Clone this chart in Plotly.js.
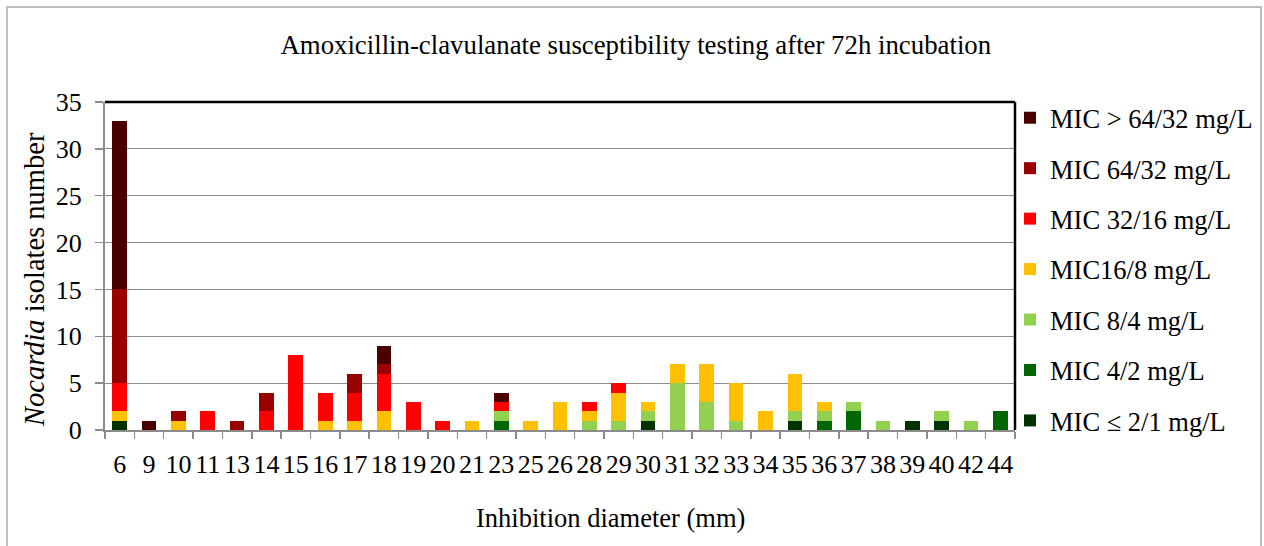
<!DOCTYPE html>
<html>
<head>
<meta charset="utf-8">
<script src="https://cdn.plot.ly/plotly-3.0.1.min.js"></script>
<style>
html,body{margin:0;padding:0;background:#fff;}
#chart{width:1264px;height:546px;}
</style>
</head>
<body>
<div id="chart"></div>
<script>
// Inhibition diameter categories (mm)
const categories = ['6','9','10','11','13','14','15','16','17','18','19','20','21','23','25','26','28','29','30','31','32','33','34','35','36','37','38','39','40','42','44'];

// Series: number of isolates per MIC class, per diameter
const micGt64 = [18,1,0,0,0,0,0,0,0,2,0,0,0,1,0,0,0,0,0,0,0,0,0,0,0,0,0,0,0,0,0];
const mic64   = [10,0,1,0,1,2,0,0,2,1,0,0,0,0,0,0,0,0,0,0,0,0,0,0,0,0,0,0,0,0,0];
const mic32   = [3,0,0,2,0,2,8,3,3,4,3,1,0,1,0,0,1,1,0,0,0,0,0,0,0,0,0,0,0,0,0];
const mic16   = [1,0,1,0,0,0,0,1,1,2,0,0,1,0,1,3,1,3,1,2,4,4,2,4,1,0,0,0,0,0,0];
const mic8    = [0,0,0,0,0,0,0,0,0,0,0,0,0,1,0,0,1,1,1,5,3,1,0,1,1,1,1,0,1,1,0];
const mic4    = [0,0,0,0,0,0,0,0,0,0,0,0,0,1,0,0,0,0,0,0,0,0,0,0,1,2,0,0,0,0,2];
const micLe2  = [1,0,0,0,0,0,0,0,0,0,0,0,0,0,0,0,0,0,1,0,0,0,0,1,0,0,0,1,1,0,0];

const seriesNames = ['MIC \u2264 2/1 mg/L','MIC 4/2 mg/L','MIC 8/4 mg/L','MIC16/8 mg/L','MIC 32/16 mg/L','MIC 64/32 mg/L','MIC > 64/32 mg/L'];
const seriesValues = [micLe2, mic4, mic8, mic16, mic32, mic64, micGt64];
const seriesColors = ['#003300','#006600','#92D050','#FFC000','#FF0000','#990000','#4B0000'];

const chartTitle = 'Amoxicillin-clavulanate susceptibility testing after 72h incubation';
const xTitle = 'Inhibition diameter (mm)';
const yTitle = '<i>Nocardia</i> isolates number';

const FONT = '"Liberation Serif","Times New Roman",serif';

const traces = seriesValues.map((vals, i) => ({
  type: 'bar',
  x: categories,
  y: vals,
  name: seriesNames[i],
  legendgroup: 'g' + i,
  legendrank: 100 - i,
  marker: {color: seriesColors[i], line: {width: 0}},
  hoverinfo: 'x+y+name'
}));

// plot area geometry (px)
const L = 105, R = 249, T = 102, B = 116;
const W = 1264 - L - R, H = 546 - T - B;
const px2x = p => (p - L) / W;
const py2y = p => (546 - B - p) / H;

const layout = {
  width: 1264, height: 546,
  margin: {l: L, r: R, t: T, b: B, pad: 0, autoexpand: false},
  paper_bgcolor: '#ffffff',
  plot_bgcolor: '#ffffff',
  barmode: 'stack',
  bargap: 0.5,
  font: {family: FONT, color: '#000', size: 26},
  title: {
    text: chartTitle,
    font: {family: FONT, size: 26.8, color: '#000'},
    x: 0.503, xref: 'container', xanchor: 'center',
    y: 1 - 45/546, yref: 'container', yanchor: 'middle'
  },
  xaxis: {
    type: 'category',
    tickmode: 'array', tickvals: categories, ticktext: categories,
    tickson: 'boundaries',
    tickangle: 0,
    ticks: 'outside', ticklen: 7, tickwidth: 1.5, tickcolor: '#8c8c8c',
    ticklabelstandoff: 10,
    showline: true, linecolor: '#8c8c8c', linewidth: 2,
    showgrid: false, zeroline: false,
    tickfont: {family: FONT, size: 26, color: '#000'},
    automargin: false
  },
  yaxis: {
    range: [0, 35], dtick: 5, tick0: 0,
    ticks: 'outside', ticklen: 8, tickwidth: 1.5, tickcolor: '#8c8c8c',
    ticklabelstandoff: 8,
    showline: true, linecolor: '#8c8c8c', linewidth: 2,
    showgrid: true, gridcolor: '#8c8c8c', gridwidth: 1.2,
    zeroline: false,
    tickfont: {family: FONT, size: 26, color: '#000'},
    automargin: false
  },
  legend: {
    traceorder: 'grouped',
    x: px2x(1010), xanchor: 'left',
    y: py2y(94), yanchor: 'top',
    font: {family: FONT, size: 26.5, color: '#000'},
    tracegroupgap: 13,
    itemwidth: 30,
    maxheight: 520,
    bgcolor: 'rgba(0,0,0,0)',
    borderwidth: 0
  },
  showlegend: true,
  annotations: [
    {text: xTitle, xref: 'paper', yref: 'paper', x: px2x(610), y: py2y(518),
     xanchor: 'center', yanchor: 'middle', showarrow: false,
     font: {family: FONT, size: 26.5, color: '#000'}},
    {text: yTitle, xref: 'paper', yref: 'paper', x: px2x(34), y: py2y(280),
     xanchor: 'center', yanchor: 'middle', showarrow: false, textangle: -90,
     font: {family: FONT, size: 28.5, color: '#000'}}
  ],
  shapes: [
    // outer chart frame
    {type: 'rect', xref: 'paper', yref: 'paper', x0: px2x(7), x1: px2x(1261), y0: py2y(600), y1: py2y(7),
     line: {color: '#bfbfbf', width: 2}, fillcolor: 'rgba(0,0,0,0)', layer: 'below'},
    // black top and right plot border
    {type: 'line', xref: 'paper', yref: 'paper', x0: 0, x1: 1, y0: 1, y1: 1, line: {color: '#000', width: 2.5}},
    {type: 'line', xref: 'paper', yref: 'paper', x0: 1, x1: 1, y0: 0, y1: 1, line: {color: '#000', width: 2.5}}
  ]
};

Plotly.newPlot('chart', traces, layout, {displayModeBar: false, staticPlot: true});
</script>
</body>
</html>
